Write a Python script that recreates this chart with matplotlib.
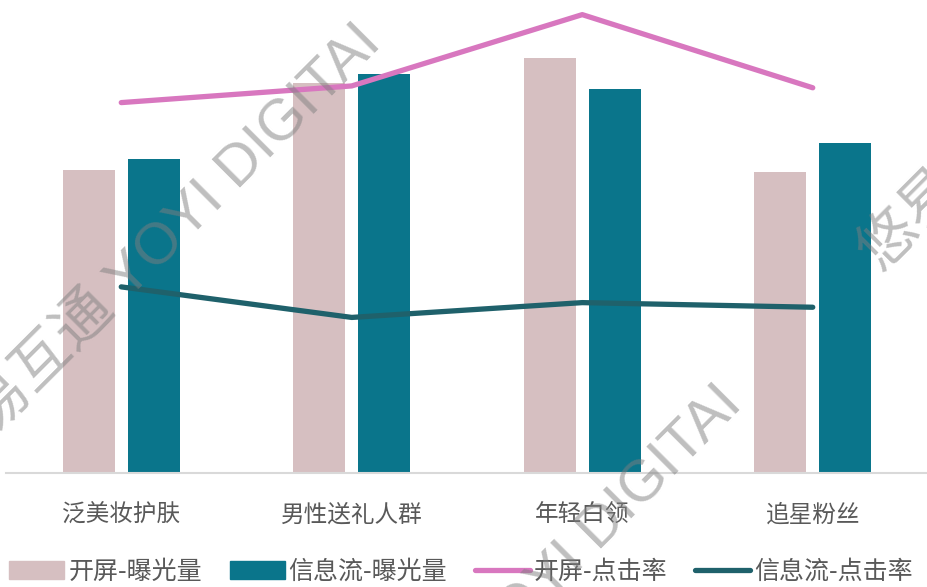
import matplotlib
matplotlib.use("Agg")
import matplotlib.pyplot as plt
import numpy as np
from matplotlib.patches import Patch
from matplotlib.lines import Line2D

plt.rcParams['font.family'] = ['Noto Sans CJK SC', 'DejaVu Sans']

categories = ['泛美妆护肤', '男性送礼人群', '年轻白领', '追星粉丝']
splash_exposure = [327, 421, 448, 325]     # 开屏-曝光量 (index)
feed_exposure = [339, 431, 415, 356]       # 信息流-曝光量 (index)
splash_ctr = [4.00, 4.18, 4.95, 4.16]      # 开屏-点击率
feed_ctr = [2.01, 1.68, 1.84, 1.79]        # 信息流-点击率

c_splash_bar = '#D6BFC1'
c_feed_bar = '#0A758B'
c_splash_line = '#D877BF'
c_feed_line = '#1F616B'
c_text = '#595959'

fig = plt.figure(figsize=(9.28, 5.87), dpi=100)
ax = fig.add_axes([6 / 928, 114 / 587, 922 / 928, 463 / 587])

x = np.arange(len(categories))
w = 0.225
off = 0.1414
ax.bar(x - off, splash_exposure, w, color=c_splash_bar, zorder=2)
ax.bar(x + off, feed_exposure, w, color=c_feed_bar, zorder=2)
ax.set_xlim(-0.5, 3.5)
ax.set_ylim(0, 500)

for s in ['top', 'right', 'left']:
    ax.spines[s].set_visible(False)
ax.spines['bottom'].set_color('#D9D9D9')
ax.spines['bottom'].set_linewidth(1.5)
ax.set_yticks([])
ax.set_xticks(x)
ax.set_xticklabels(categories, fontsize=17, color=c_text)
ax.tick_params(axis='x', length=0, pad=22)

ax2 = ax.twinx()
ax2.set_ylim(0, 5)
ax2.plot(x, splash_ctr, color=c_splash_line, lw=3.8, solid_capstyle='round',
         solid_joinstyle='round', clip_on=False, zorder=3)
ax2.plot(x, feed_ctr, color=c_feed_line, lw=3.8, solid_capstyle='round',
         solid_joinstyle='round', clip_on=False, zorder=3)
ax2.set_yticks([])
for s in ax2.spines.values():
    s.set_visible(False)

handles = [
    Patch(color=c_splash_bar, label='开屏-曝光量'),
    Patch(color=c_feed_bar, label='信息流-曝光量'),
    Line2D([], [], color=c_splash_line, lw=3.8, solid_capstyle='round', label='开屏-点击率'),
    Line2D([], [], color=c_feed_line, lw=3.8, solid_capstyle='round', label='信息流-点击率'),
]
fig.legend(handles=handles, loc='center', bbox_to_anchor=(461 / 928, 1 - 572 / 587),
           ncol=4, frameon=False, fontsize=18, handlelength=2.2, handleheight=0.75,
           handletextpad=0.16, columnspacing=1.1, labelcolor=c_text,
           borderaxespad=0, borderpad=0)

# diagonal watermark
wm = '悠易互通 YOYI DIGITAI'
wm_font = ['Liberation Sans', 'Noto Sans CJK SC']
fig.text(372 / 928, 1 - 34 / 587, wm, rotation=45, rotation_mode='anchor',
         ha='right', va='center', fontsize=42, color='#7F7F7F', alpha=0.5,
         family=wm_font, zorder=10)
fig.text(733 / 928, 1 - 395 / 587, wm, rotation=45, rotation_mode='anchor',
         ha='right', va='center', fontsize=42, color='#7F7F7F', alpha=0.5,
         family=wm_font, zorder=10)
fig.text(870 / 928, 1 - 263 / 587, wm, rotation=45, rotation_mode='anchor',
         ha='left', va='center', fontsize=42, color='#7F7F7F', alpha=0.5,
         family=wm_font, zorder=10)

fig.savefig('out.png', dpi=100)
